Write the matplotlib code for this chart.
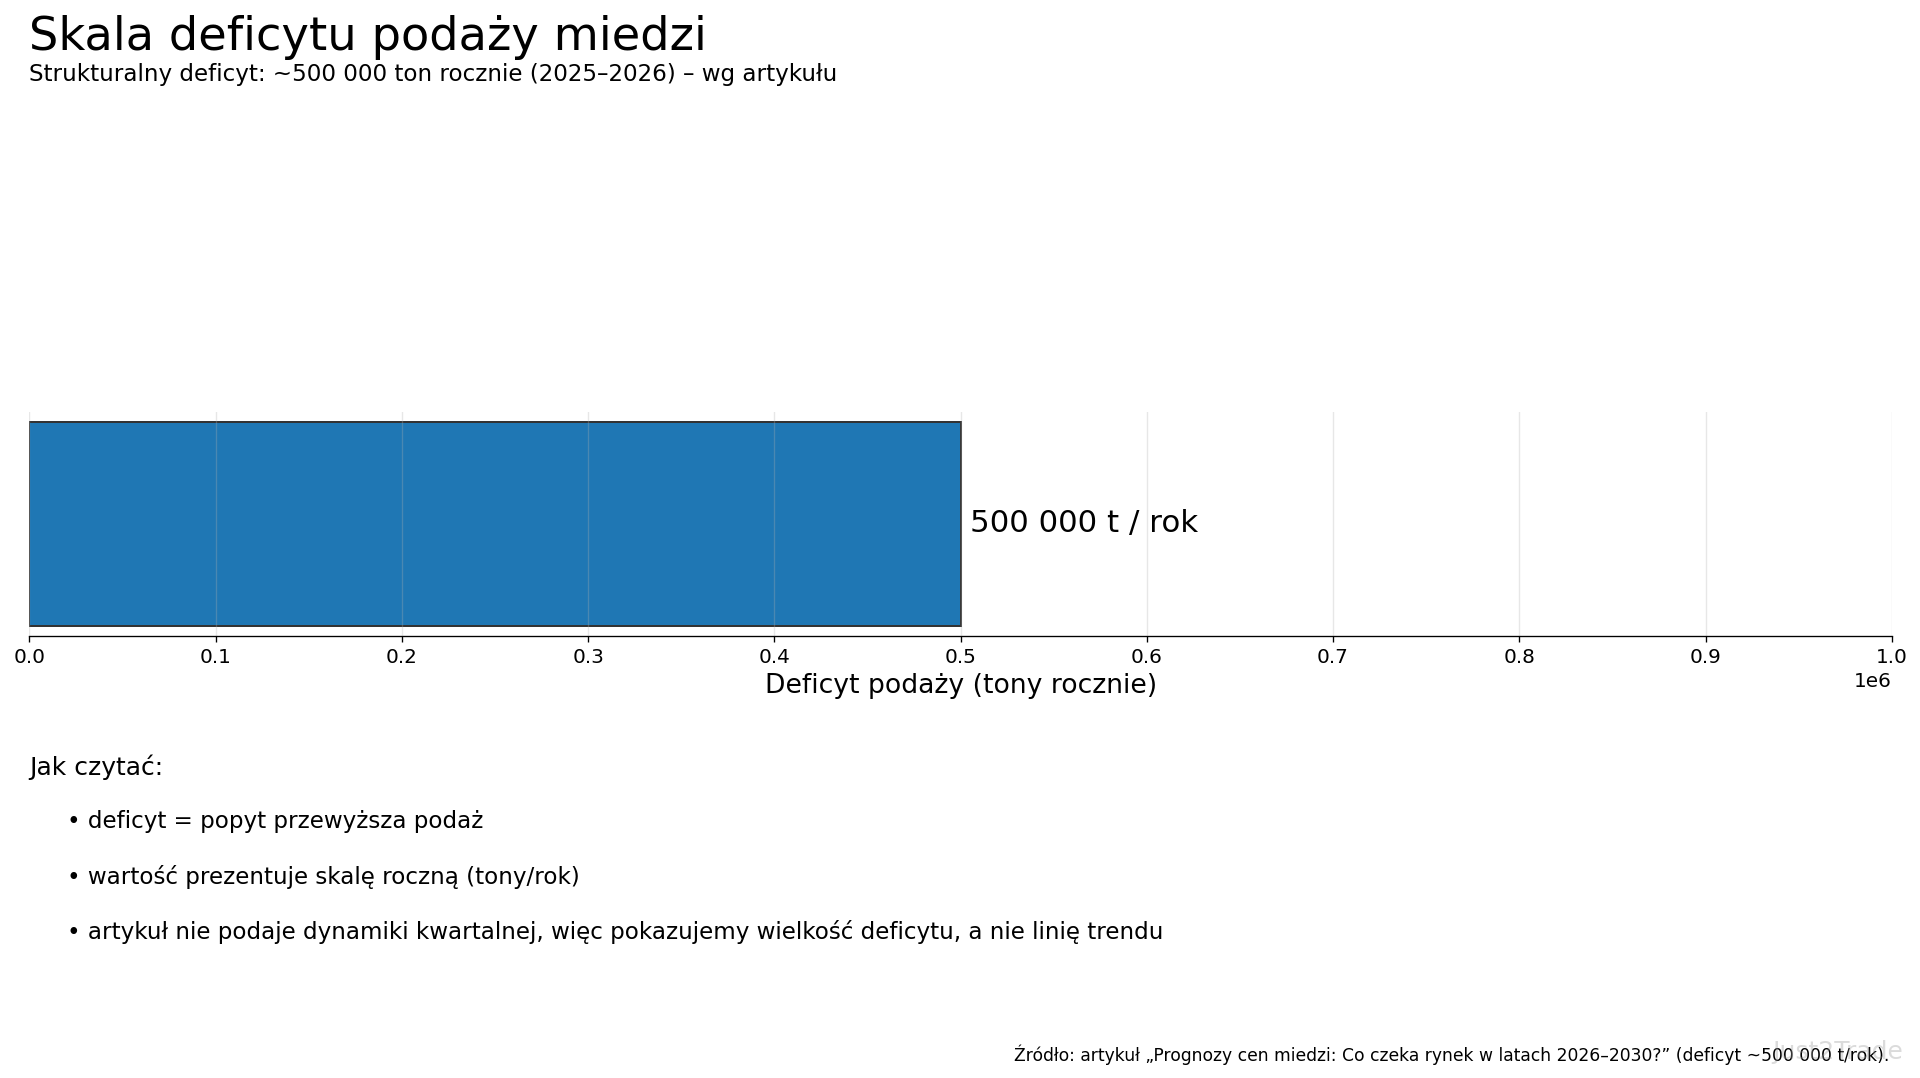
import numpy as np
from matplotlib import pyplot as plt

# dane
CATEGORIES = ["Deficyt"]
DEFICIT    = [500000]
BAR_LABEL  = "500 000 t / rok"
BULLETS    = [
    "• deficyt = popyt przewyższa podaż",
    "• wartość prezentuje skalę roczną (tony/rok)",
    "• artykuł nie podaje dynamiki kwartalnej, więc pokazujemy wielkość deficytu, a nie linię trendu",
]

fig = plt.figure(figsize=(16, 1078 / 120), dpi=120)
ax = fig.add_axes([0.0153, 0.410, 0.970, 0.208])

ax.barh(CATEGORIES, DEFICIT, color="#1f77b4", edgecolor="#333333", linewidth=1.2)
ax.text(DEFICIT[0] + 5000, 0, BAR_LABEL, va="center", ha="left", fontsize=18.5)

ax.set_xlim(0, 1e6)
ax.set_xticks(np.arange(0, 1.01e6, 1e5))
ax.grid(axis="x", color="#b0b0b0", alpha=0.3, linewidth=0.8)
ax.set_yticks([])
for s in ["top", "right", "left"]:
    ax.spines[s].set_visible(False)
ax.tick_params(axis="x", labelsize=12)
ax.xaxis.get_offset_text().set_fontsize(12)
ax.set_xlabel("Deficyt podaży (tony rocznie)", fontsize=16)

fig.text(0.0153, 0.954, "Skala deficytu podaży miedzi", fontsize=27.8, va="baseline")
fig.text(0.0153, 0.925, "Strukturalny deficyt: ~500 000 ton rocznie (2025–2026) – wg artykułu",
         fontsize=13.8, va="baseline")

fig.text(0.0153, 0.2815, "Jak czytać:", fontsize=15, va="baseline")
for i, b in enumerate(BULLETS):
    fig.text(0.035, 0.2315 - i * 0.0515, b, fontsize=13.8, va="baseline")

fig.text(0.984, 0.0155,
         "Źródło: artykuł „Prognozy cen miedzi: Co czeka rynek w latach 2026–2030?” (deficyt ~500 000 t/rok).",
         fontsize=10.3, ha="right", va="baseline")
fig.text(0.991, 0.018, "Just2Trade", fontsize=15, ha="right", va="baseline",
         color="#999999", alpha=0.35)

fig.savefig("out.png", dpi=120)
